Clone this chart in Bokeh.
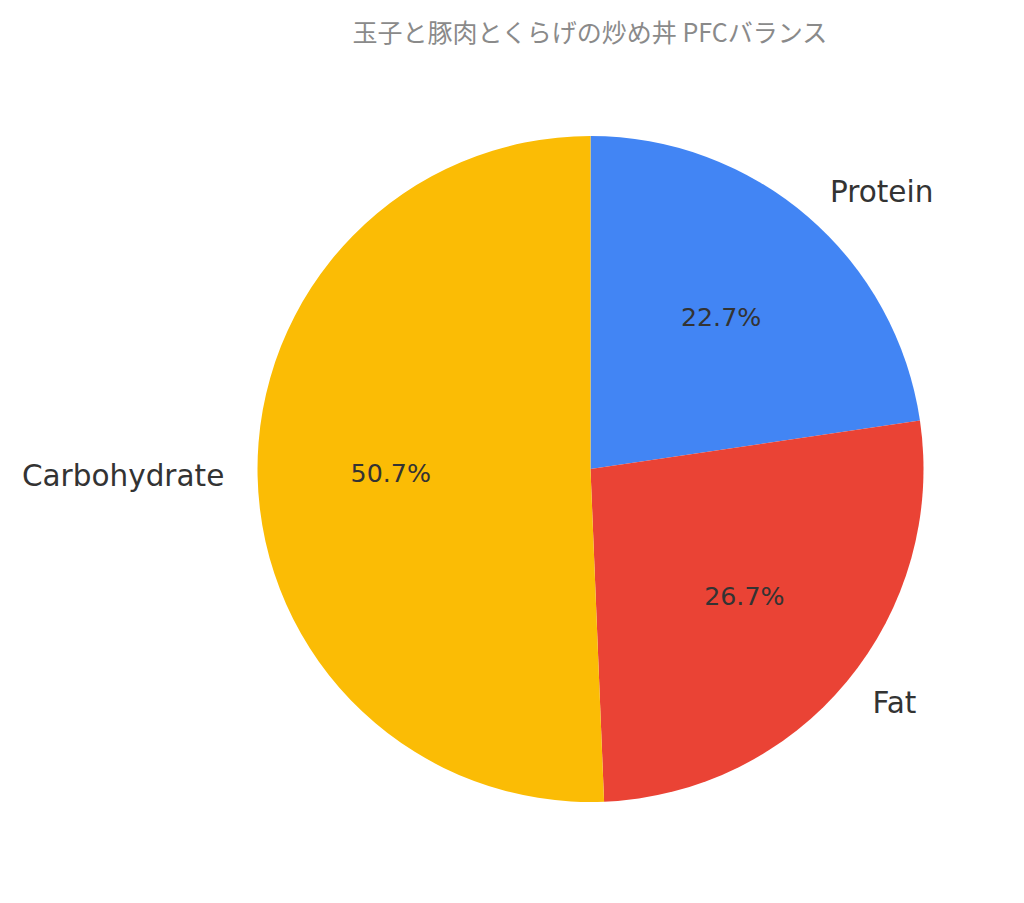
import math
import pandas as pd
from bokeh.plotting import figure
from bokeh.models import ColumnDataSource, Range1d
from bokeh.core.properties import value
from bokeh.embed import file_html
from bokeh.resources import INLINE

# ---- data ----
title_text = "玉子と豚肉とくらげの炒め丼 PFCバランス"
categories = ["Protein", "Fat", "Carbohydrate"]
shares = [22.7, 26.7, 50.7]
colors = ["#4285F4", "#EA4335", "#FBBC05"]

# ---- layout (pixel-like data units, origin at pie centre) ----
W, H = 1008, 887
cx_page, cy_page = 590, 468.5
R = 333

df = pd.DataFrame({"cat": categories, "share": shares, "color": colors})
total = df["share"].sum()
df["frac"] = df["share"] / total
cum = df["frac"].cumsum()
df["start"] = math.pi / 2 - (cum - df["frac"]) * 2 * math.pi
df["end"] = math.pi / 2 - cum * 2 * math.pi
df["mid"] = (df["start"] + df["end"]) / 2
df["lx"] = 1.1 * R * df["mid"].apply(math.cos)
df["ly"] = 1.1 * R * df["mid"].apply(math.sin)
df["align"] = ["left" if math.cos(a) > 0 else "right" for a in df["mid"]]
df["px"] = 0.6 * R * df["mid"].apply(math.cos)
df["py"] = 0.6 * R * df["mid"].apply(math.sin)
df["pct"] = [f"{s:.1f}%" for s in df["share"]]

src = ColumnDataSource(df)

x0 = -cx_page
y_top = cy_page
p = figure(width=W, height=H, output_backend="svg", toolbar_location=None,
           x_range=Range1d(x0, x0 + W), y_range=Range1d(y_top - H, y_top),
           min_border=0, outline_line_color=None)
p.axis.visible = False
p.grid.visible = False

p.wedge(x=0, y=0, radius=R, start_angle="start", end_angle="end",
        direction="clock", fill_color="color", line_color=None, source=src)

p.text(x="lx", y="ly", text="cat", text_align="align", text_baseline="middle",
       text_font=value("DejaVu Sans"), text_font_size="29.5px",
       text_color="#333333", source=src)
p.text(x="px", y="py", text="pct", text_align="center", text_baseline="middle",
       text_font=value("DejaVu Sans"), text_font_size="25.3px",
       text_color="#333333", source=src)

p.text(x=[0], y=[cy_page - 30], text=[title_text], text_align="center",
       text_baseline="middle", text_font=value("Noto Sans CJK JP"),
       text_font_size="25px", text_color="#8a8a8a")

open("out.html", "w").write(file_html(p, INLINE))
